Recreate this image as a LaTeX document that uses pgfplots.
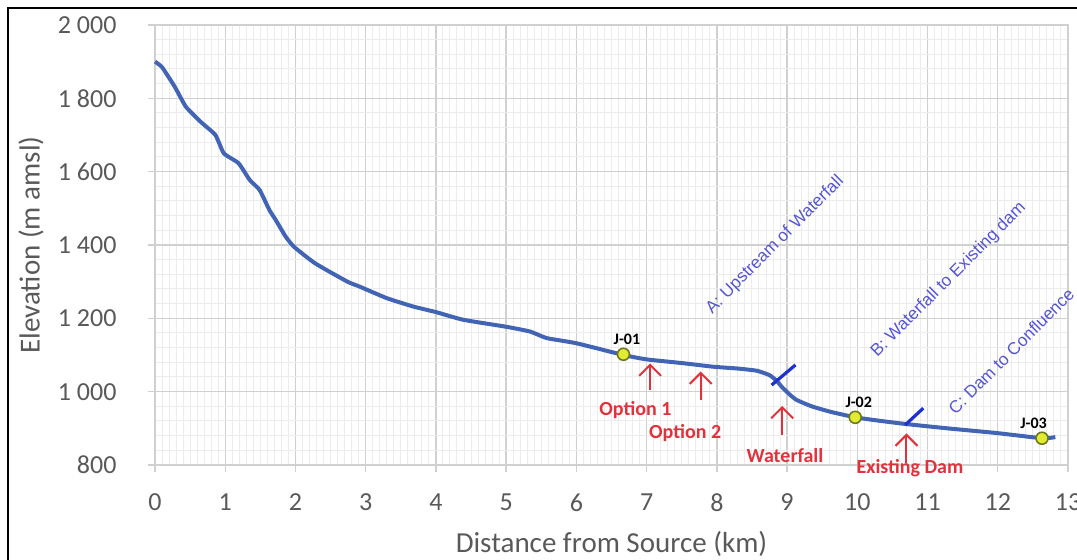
\documentclass[border=0pt]{standalone}
\usepackage{fontspec}
\setmainfont{Carlito}
\newfontfamily\arialfont{Liberation Sans}
\usepackage{pgfplots}
\pgfplotsset{compat=1.18}
\usetikzlibrary{arrows.meta}
\definecolor{tickgray}{RGB}{89,89,89}
\definecolor{majgrid}{RGB}{208,208,208}
\definecolor{mingrid}{RGB}{236,236,236}
\definecolor{riverblue}{RGB}{66,100,180}
\definecolor{divblue}{RGB}{30,50,210}
\definecolor{secblue}{RGB}{85,85,210}
\definecolor{arrred}{RGB}{225,50,60}
\definecolor{jfill}{RGB}{225,235,50}
\definecolor{jedge}{RGB}{110,120,30}
\begin{document}
\begin{tikzpicture}
\useasboundingbox (-77.5pt,-47.5pt) rectangle (461pt,232.5pt);
\draw[line width=1pt] (-73.5pt,-60pt) rectangle (480pt,228.5pt);
\begin{axis}[
  at={(0pt,0pt)}, anchor=south west,
  scale only axis, width=456.5pt, height=220pt,
  xmin=0, xmax=13, ymin=800, ymax=2000,
  xtick={0,1,...,13}, ytick={800,1000,...,2000},
  minor x tick num=9, minor y tick num=4,
  grid=both,
  major grid style={majgrid, line width=0.7pt},
  minor grid style={mingrid, line width=0.5pt},
  axis line style={majgrid, line width=0.7pt},
  tick style={majgrid, line width=0.7pt},
  major tick length=3.5pt, minor tick length=0pt,
  tick align=outside,
  tick pos=left,
  /pgf/number format/assume math mode=true,
  /pgf/number format/1000 sep={\ },
  tick label style={font=\fontsize{13}{15}\selectfont, text=tickgray},
  xticklabel style={yshift=-7.2pt},
  yticklabel style={xshift=-12.2pt},
  xlabel={Distance from Source (km)},
  ylabel={Elevation (m amsl)},
  label style={font=\fontsize{14.5}{17}\selectfont, text=tickgray},
  xlabel style={at={(axis description cs:0.5,-0.18)}, anchor=center},
  ylabel style={at={(axis description cs:-0.1358,0.5)}, anchor=center},
  clip=false,
]
\addplot[riverblue, line width=2pt, smooth, tension=0.3] coordinates {
(0,1900) (0.1,1885) (0.28,1832) (0.44,1777) (0.65,1736) (0.86,1700)
(0.98,1650) (1.19,1623) (1.35,1577) (1.49,1550) (1.63,1495) (1.72,1468)
(1.86,1423) (1.98,1395) (2.28,1350) (2.74,1300) (2.92,1286) (3.3,1255)
(3.68,1232) (4.0,1217) (4.39,1196) (5.0,1177) (5.34,1164) (5.58,1146)
(6.0,1132) (6.67,1100) (7.0,1088) (7.5,1078) (7.95,1068) (8.3,1063)
(8.57,1057) (8.75,1045) (8.85,1030) (8.93,1012) (9.05,990) (9.14,977)
(9.35,960) (9.62,945) (9.97,930) (10.3,921) (10.68,912) (11.28,900)
(11.99,887) (12.63,873) (12.82,876)
};
\addplot[divblue, line width=1.6pt] coordinates {(8.78,1018) (9.12,1073)};
\addplot[divblue, line width=1.6pt] coordinates {(10.68,909) (10.94,955)};
\addplot[only marks, mark=*, mark size=3pt, mark options={fill=jfill, draw=jedge, line width=0.8pt}]
  coordinates {(6.67,1102) (9.97,930) (12.63,873)};
\addplot[arrred, line width=1pt, -{Straight Barb[length=5.5pt,width=11pt]}] coordinates {(7.05,1005) (7.05,1077)};
\addplot[arrred, line width=1pt, -{Straight Barb[length=5.5pt,width=11pt]}] coordinates {(7.77,977) (7.77,1055)};
\addplot[arrred, line width=1pt, -{Straight Barb[length=5.5pt,width=11pt]}] coordinates {(8.93,882) (8.93,961)};
\addplot[arrred, line width=1pt, -{Straight Barb[length=5.5pt,width=11pt]}] coordinates {(10.70,805) (10.70,886)};
\node[font=\bfseries\fontsize{10}{12}\selectfont, text=arrred] at (axis cs:6.84,950) {Option 1};
\node[font=\bfseries\fontsize{10}{12}\selectfont, text=arrred] at (axis cs:7.55,886) {Option 2};
\node[font=\bfseries\fontsize{10}{12}\selectfont, text=arrred] at (axis cs:8.97,827) {Waterfall};
\node[font=\bfseries\fontsize{10}{12}\selectfont, text=arrred] at (axis cs:10.75,791) {Existing Dam};
\node[font=\bfseries\fontsize{8}{10}\selectfont] at (axis cs:6.72,1143) {J-01};
\node[font=\bfseries\fontsize{8}{10}\selectfont] at (axis cs:10.02,971) {J-02};
\node[font=\bfseries\fontsize{8}{10}\selectfont] at (axis cs:12.51,914) {J-03};
\node[font=\arialfont\fontsize{8.6}{10}\selectfont, text=secblue, rotate=45] at (axis cs:8.83,1400) {A: Upstream of Waterfall};
\node[font=\arialfont\fontsize{8.6}{10}\selectfont, text=secblue, rotate=45] at (axis cs:11.30,1305) {B: Waterfall to Existing dam};
\node[font=\arialfont\fontsize{8.6}{10}\selectfont, text=secblue, rotate=45] at (axis cs:12.19,1111) {C: Dam to Confluence};
\end{axis}
\end{tikzpicture}
\end{document}
